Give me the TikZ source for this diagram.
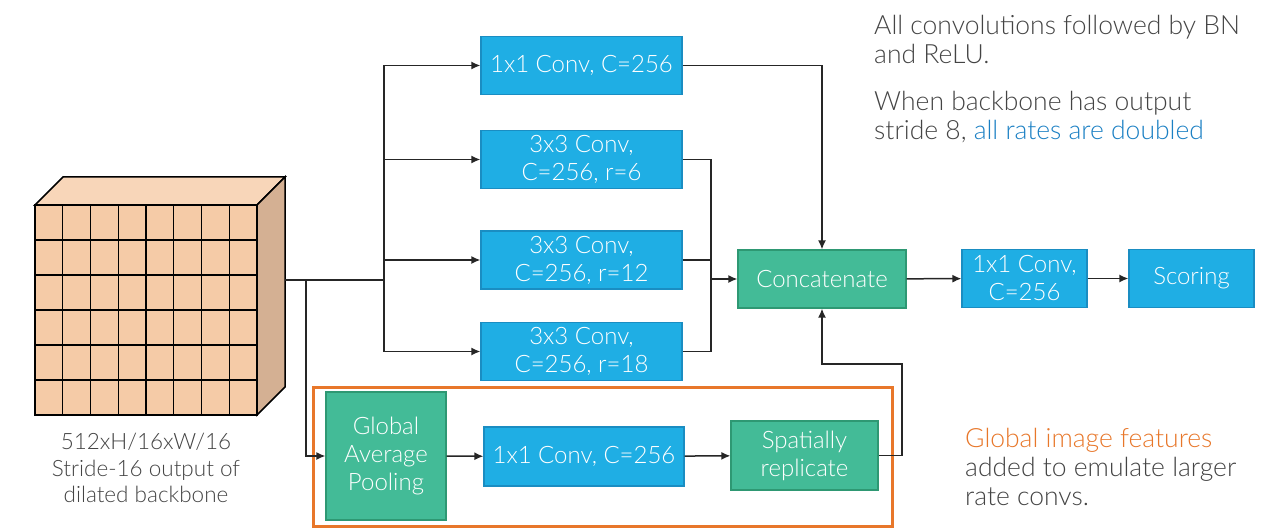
\documentclass[tikz,border=0pt]{standalone}
\usepackage{fontspec}
\setmainfont{Lato Light}
\usetikzlibrary{arrows.meta,positioning}
\definecolor{convblue}{HTML}{1FAEE4}
\definecolor{convedge}{HTML}{1A8DC2}
\definecolor{catgreen}{HTML}{43BB97}
\definecolor{catedge}{HTML}{2E9873}
\definecolor{gfeat}{HTML}{E8772A}
\definecolor{notegray}{HTML}{444444}
\definecolor{noteblue}{HTML}{1B80C4}
\definecolor{cubefront}{HTML}{F5CBA7}
\definecolor{cubetop}{HTML}{F8D6B9}
\definecolor{cubeside}{HTML}{D4B093}

\begin{document}
\begin{tikzpicture}[x=1pt,y=-1pt,
  every node/.style={font=\fontsize{24}{28}\selectfont},
  conv/.style={draw=convedge,fill=convblue,text=white,line width=1.2pt,
    align=center,inner sep=0pt,minimum height=58pt},
  merge/.style={conv,draw=catedge,fill=catgreen},
  note/.style={text=notegray,align=left,inner sep=0pt,anchor=north west,
    font=\fontsize{26.5}{29}\selectfont},
  wire/.style={line width=1.5pt,draw=black!85},
  arr/.style={wire,-{Latex[length=9pt,width=8pt]}}]
  \useasboundingbox[fill=white](0,0) rectangle (1264,532);

  % feature map
  \filldraw[fill=cubetop,line width=1.5pt](35,205)--(63,177)--(285,177)--(257,205)--cycle;
  \filldraw[fill=cubeside,line width=1.5pt](257,205)--(285,177)--(285,387)--(257,415)--cycle;
  \filldraw[fill=cubefront,line width=1.5pt](35,205) rectangle (257,415);
  \foreach \i in {1,...,7}
    \draw[line width=1.2pt](35+\i*27.75,205)--++(0,210);
  \foreach \j in {1,...,5}
    \draw[line width=1.2pt](35,205+\j*35)--++(222,0);
  \node[text=notegray,align=center,anchor=north,inner sep=0pt,
    font=\fontsize{22.5}{26.5}\selectfont](fmap) at (146,433)
    {512xH/16xW/16\\Stride-16 output of\\dilated backbone};
  \coordinate (feat) at (285,280);
  \coordinate (gsplit) at (306,280);
  \coordinate (split) at (384,280);

  % parallel branches
  \node[conv,minimum width=201pt](c1) at (581.5,65.5){1x1 Conv, C=256};
  \node[conv,minimum width=201pt](c2) at (581.5,159.5){3x3 Conv,\\C=256, r=6};
  \node[conv,minimum width=201pt](c3) at (581.5,260){3x3 Conv,\\C=256, r=12};
  \node[conv,minimum width=201pt](c4) at (581.5,351.5){3x3 Conv,\\C=256, r=18};
  \node[merge,minimum width=168pt](cat) at (822,279){Concatenate};
  \node[conv,minimum width=125pt](c5) at (1024.5,278.5){1x1 Conv,\\C=256};
  \node[conv,minimum width=125pt](score) at (1191.5,278.5){Scoring};
  \coordinate (join) at (711,279);

  % image pooling
  \draw[gfeat,line width=3pt](313,387) rectangle (892,526);
  \node[merge,minimum width=120pt,minimum height=128pt](gap) at (386,456){Global\\Average\\Pooling};
  \node[conv,minimum width=200pt,minimum height=59pt](pconv) at (584,456.5){1x1 Conv, C=256};
  \node[merge,minimum width=147pt,minimum height=69pt](rep) at (804.5,455.5){Spatially\\replicate};
  \coordinate (back) at (902,364);

  \draw[wire](feat)--(split);
  \foreach \n in {c1,c2,c3,c4}
    \draw[arr](split)|-(\n.west);
  \draw[arr](gsplit)|-(gap.west);
  \draw[arr](gap)--(pconv);
  \draw[arr](pconv)--(rep);
  \draw[arr](c1.east)-|(cat.north);
  \foreach \n in {c2,c3,c4}
    \draw[wire](\n.east)-|(join);
  \draw[arr](join)--(cat.west);
  \draw[arr](rep.east)-|(back)-|(cat.south);
  \draw[arr](cat)--(c5);
  \draw[arr](c5)--(score);

  % notes
  \node[note](n1) at (874,15){All convolutions followed by BN\\and ReLU.};
  \node[note](n2) at (874,91){When backbone has output\\stride 8, \textcolor{noteblue}{all rates are doubled}};
  \node[note](n3) at (965,428){\textcolor{gfeat}{Global image features}\\added to emulate larger\\rate convs.};
\end{tikzpicture}
\end{document}
